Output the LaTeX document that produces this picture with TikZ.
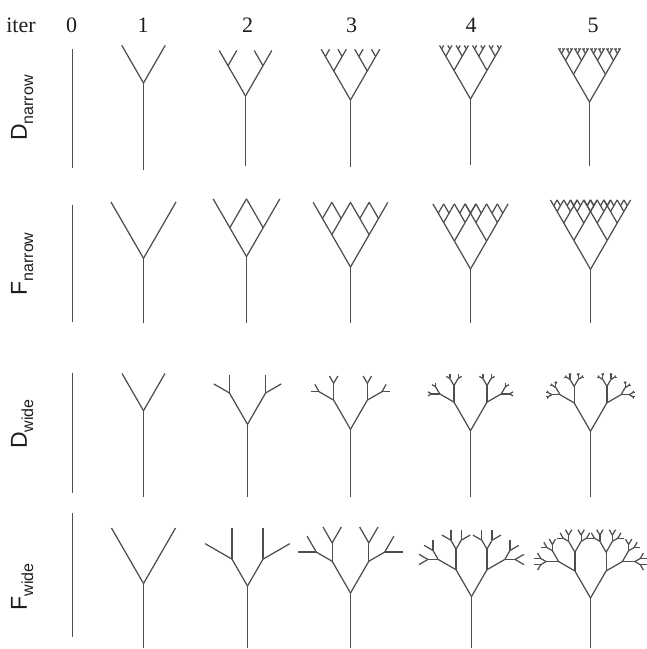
\documentclass[tikz,border=0pt]{standalone}
\usepackage{fontspec}
\setmainfont{Liberation Serif}
\newfontfamily\labfont{Liberation Sans}
\definecolor{treegray}{RGB}{78,78,78}
\definecolor{txt}{RGB}{30,30,30}
\tikzset{
  treeline/.style={draw=treegray, line width=1.25pt},
  hdr/.style={font=\fontsize{22}{22}\selectfont, anchor=base, text=txt, inner sep=0pt},
  rowlab/.style={rotate=90, anchor=base, inner sep=0pt, font=\labfont, text=txt}
}
\newcommand\fibnum[1]{\ifcase\numexpr#1\relax 0\or 1\or 1\or 2\or 3\or 5\or 8\or 13\or 21\fi}
\newif\iffibtree
\newif\ifwidetree
% #1 x, #2 y, #3 direction (deg from vertical, + = right), #4 level
\newcommand\brn[4]{%
  \ifnum#4>\treeN\relax\else
  \begingroup
    \iffibtree
      \edef\fa{\fibnum{\treeN+1-#4}}%
      \edef\fb{\fibnum{\treeN+1}}%
      \pgfmathsetmacro\len{\treeT*\fa/\fb}%
    \else
      \pgfmathsetmacro\len{\treeT/(2^#4)}%
    \fi
    \pgfmathsetmacro\nx{#1+\len*sin(#3)}%
    \pgfmathsetmacro\ny{#2-\len*cos(#3)}%
    \draw[treeline] (#1,#2) -- (\nx,\ny);
    \ifwidetree
      \pgfmathsetmacro\aL{#3-30}\pgfmathsetmacro\aR{#3+30}%
    \else
      \def\aL{-30}\def\aR{30}%
    \fi
    \edef\next{\noexpand\brn{\nx}{\ny}{\aL}{\the\numexpr#4+1\relax}%
               \noexpand\brn{\nx}{\ny}{\aR}{\the\numexpr#4+1\relax}}%
  \expandafter\endgroup\next
  \fi}
% #1 cx, #2 bottom y, #3 trunk length, #4 iterations, #5 fib true/false, #6 wide true/false
\newcommand\drawtree[6]{%
  \begingroup
  \def\treeT{#3}\def\treeN{#4}%
  \csname fibtree#5\endcsname
  \csname widetree#6\endcsname
  \pgfmathsetmacro\fy{#2-#3}%
  \draw[treeline] (#1,#2) -- (#1,\fy);
  \edef\next{\noexpand\brn{#1}{\fy}{-30}{1}\noexpand\brn{#1}{\fy}{30}{1}}%
  \next
  \endgroup}
\begin{document}
\begin{tikzpicture}[x=1pt,y=-1pt]
\useasboundingbox (0,0) rectangle (647,649);
% header
\node[hdr] (hiter) at (21,32) {iter};
\node[hdr] (h0) at (71.5,32) {0};
\node[hdr] (h1) at (143,32) {1};
\node[hdr] (h2) at (247.5,32) {2};
\node[hdr] (h3) at (351.5,32) {3};
\node[hdr] (h4) at (471,32) {4};
\node[hdr] (h5) at (593,32) {5};
% row labels
\node[rowlab] (ldn) at (27,108) {\fontsize{23}{23}\selectfont D\raisebox{-6pt}{\fontsize{16}{16}\selectfont narrow}};
\node[rowlab] (lfn) at (27,264) {\fontsize{23}{23}\selectfont F\raisebox{-6pt}{\fontsize{16}{16}\selectfont narrow}};
\node[rowlab] (ldw) at (27,424) {\fontsize{23}{23}\selectfont D\raisebox{-6pt}{\fontsize{16}{16}\selectfont wide}};
\node[rowlab] (lfw) at (27,587) {\fontsize{23}{23}\selectfont F\raisebox{-6pt}{\fontsize{16}{16}\selectfont wide}};
% iteration 0
\draw[treeline] (72.5,49) -- (72.5,168);
\draw[treeline] (72.5,205) -- (72.5,322);
\draw[treeline] (72.5,373) -- (72.5,493);
\draw[treeline] (72.5,513) -- (72.5,637);
% D narrow
\drawtree{143.5}{170}{87}{1}{false}{false}
\drawtree{245.5}{166}{70}{2}{false}{false}
\drawtree{350.5}{167}{67}{3}{false}{false}
\drawtree{470.5}{165}{66}{4}{false}{false}
\drawtree{589.5}{166}{64}{5}{false}{false}
% F narrow
\drawtree{143.5}{323.3}{65}{1}{true}{false}
\drawtree{246.5}{323.3}{66.7}{2}{true}{false}
\drawtree{350.5}{323}{56}{3}{true}{false}
\drawtree{470.5}{322.7}{53.7}{4}{true}{false}
\drawtree{590.5}{322.7}{53.4}{5}{true}{false}
% D wide
\drawtree{143.5}{496.7}{86}{1}{false}{true}
\drawtree{247.5}{496.7}{72.4}{2}{false}{true}
\drawtree{350.5}{496.7}{67.4}{3}{false}{true}
\drawtree{470.5}{496.7}{66}{4}{false}{true}
\drawtree{590.5}{496.7}{65.5}{5}{false}{true}
% F wide
\drawtree{143.5}{647.5}{64}{1}{true}{true}
\drawtree{247.5}{648}{62}{2}{true}{true}
\drawtree{350.5}{648}{55}{3}{true}{true}
\drawtree{471.5}{648}{51.5}{4}{true}{true}
\drawtree{590.5}{648}{50}{5}{true}{true}
\end{tikzpicture}
\end{document}
